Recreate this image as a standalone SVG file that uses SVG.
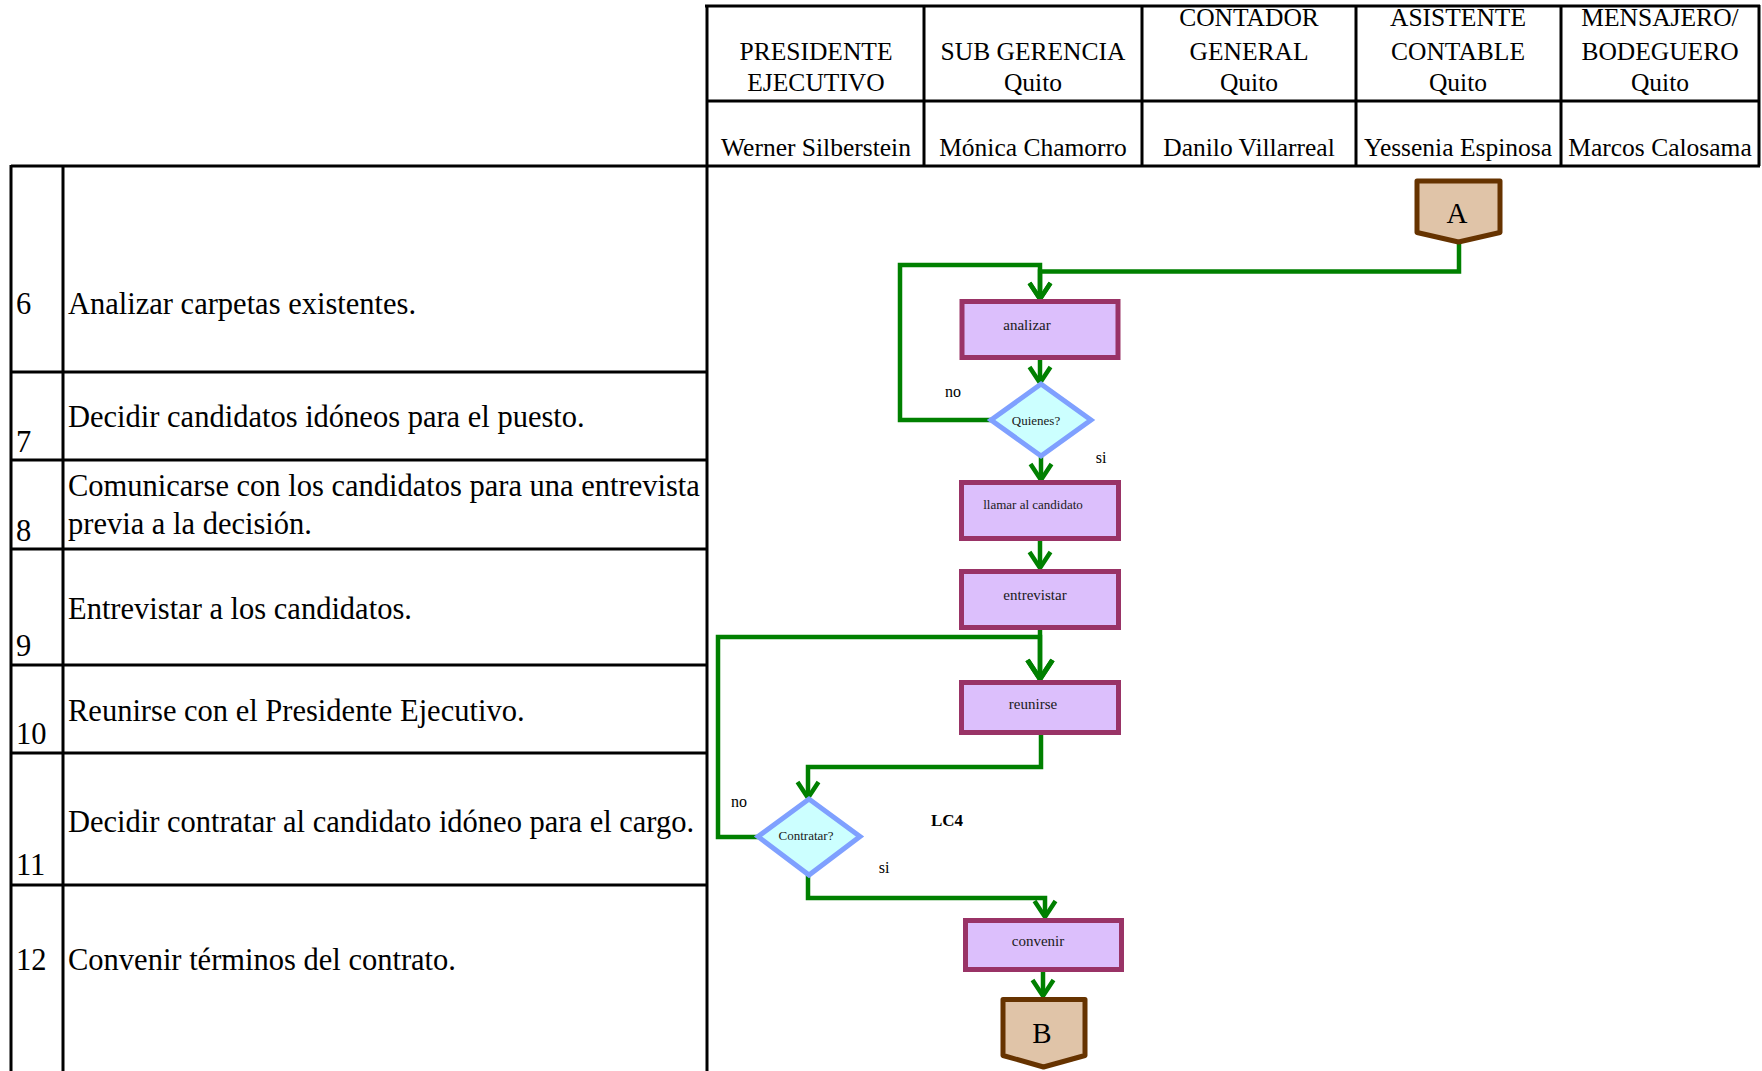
<svg xmlns="http://www.w3.org/2000/svg" width="1762" height="1071" viewBox="0 0 1762 1071">
  <style>
    .grid { stroke: #000; stroke-width: 3; fill: none; }
    .hdr { font-family: "Liberation Serif", "Times New Roman", serif; font-size: 25.5px; fill: #000; text-anchor: middle; }
    .row { font-family: "Liberation Serif", "Times New Roman", serif; font-size: 30.5px; fill: #000; }
    .proc { fill: #DCBFFC; stroke: #993366; stroke-width: 5; }
    .dec { fill: #CCFFFF; stroke: #7FA0FF; stroke-width: 5; stroke-linejoin: miter; }
    .conn { fill: #E0C4A8; stroke: #663300; stroke-width: 5; stroke-linejoin: round; }
    .lbl { font-family: "Liberation Serif", "Times New Roman", serif; font-size: 15px; fill: #1a1a1a; text-anchor: middle; }
    .small { font-size: 13px; }
    .big { font-family: "Liberation Serif", "Times New Roman", serif; font-size: 29px; fill: #000; text-anchor: middle; }
    .note { font-family: "Liberation Serif", "Times New Roman", serif; font-size: 16px; fill: #000; text-anchor: middle; }
    .bold { font-weight: bold; font-size: 17px; }
    .flow { fill: none; stroke: #008000; stroke-width: 4.5; stroke-linejoin: miter; }
  </style>
  <defs>
    <marker id="arrow" markerUnits="userSpaceOnUse" viewBox="-20 -14 24 28" markerWidth="24" markerHeight="28" refX="0" refY="0" orient="auto" overflow="visible">
      <path d="M-16,-10.5 L0,0 L-16,10.5" fill="none" stroke="#008000" stroke-width="4.5"/>
    </marker>
    <marker id="arrow-lg" markerUnits="userSpaceOnUse" viewBox="-24 -16 28 32" markerWidth="28" markerHeight="32" refX="0" refY="0" orient="auto" overflow="visible">
      <path d="M-19,-12.5 L0,0 L-19,12.5" fill="none" stroke="#008000" stroke-width="5"/>
    </marker>
  </defs>

  <rect width="1762" height="1071" fill="#fff"/>

  <!-- header table: roles and names -->
  <g id="header">
    <path class="grid" d="M705,6 H1760 M707,101 H1760 M11,166 H1760 M707,5 V1071 M924,5 V166 M1142,5 V166 M1356,5 V166 M1561,5 V166 M1759,5 V166"/>
    <text class="hdr" x="816" y="60">PRESIDENTE</text>
    <text class="hdr" x="816" y="91">EJECUTIVO</text>
    <text class="hdr" x="1033" y="60">SUB GERENCIA</text>
    <text class="hdr" x="1033" y="91">Quito</text>
    <text class="hdr" x="1249" y="26">CONTADOR</text>
    <text class="hdr" x="1249" y="60">GENERAL</text>
    <text class="hdr" x="1249" y="91">Quito</text>
    <text class="hdr" x="1458" y="26">ASISTENTE</text>
    <text class="hdr" x="1458" y="60">CONTABLE</text>
    <text class="hdr" x="1458" y="91">Quito</text>
    <text class="hdr" x="1660" y="26">MENSAJERO/</text>
    <text class="hdr" x="1660" y="60">BODEGUERO</text>
    <text class="hdr" x="1660" y="91">Quito</text>
    <text class="hdr" x="816" y="156">Werner Silberstein</text>
    <text class="hdr" x="1033" y="156">Mónica Chamorro</text>
    <text class="hdr" x="1249" y="156">Danilo Villarreal</text>
    <text class="hdr" x="1458" y="156">Yessenia Espinosa</text>
    <text class="hdr" x="1660" y="156">Marcos Calosama</text>
  </g>

  <!-- activity list -->
  <g id="steps">
    <path class="grid" d="M11,165 V1071 M63,165 V1071 M11,372 H707 M11,460 H707 M11,549 H707 M11,665 H707 M11,753 H707 M11,885 H707"/>
    <text class="row" x="16" y="314">6</text>
    <text class="row" x="68" y="314">Analizar carpetas existentes.</text>
    <text class="row" x="16" y="452">7</text>
    <text class="row" x="68" y="427">Decidir candidatos idóneos para el puesto.</text>
    <text class="row" x="16" y="541">8</text>
    <text class="row" x="68" y="496">Comunicarse con los candidatos para una entrevista</text>
    <text class="row" x="68" y="534">previa a la decisión.</text>
    <text class="row" x="16" y="656">9</text>
    <text class="row" x="68" y="619">Entrevistar a los candidatos.</text>
    <text class="row" x="16" y="744">10</text>
    <text class="row" x="68" y="721">Reunirse con el Presidente Ejecutivo.</text>
    <text class="row" x="16" y="875">11</text>
    <text class="row" x="68" y="832">Decidir contratar al candidato idóneo para el cargo.</text>
    <text class="row" x="16" y="970">12</text>
    <text class="row" x="68" y="970">Convenir términos del contrato.</text>
  </g>

  <!-- flow connectors -->
  <g id="connectors">
    <path class="flow" d="M1459,243 V271.5 H1040 V299" marker-end="url(#arrow)"/>
    <path class="flow" d="M991,420 H900 V265 H1040 V299" marker-end="url(#arrow)"/>
    <path class="flow" d="M1040,359 V383" marker-end="url(#arrow)"/>
    <path class="flow" d="M1041,456 V480" marker-end="url(#arrow)"/>
    <path class="flow" d="M1040,541 V568" marker-end="url(#arrow)"/>
    <path class="flow" d="M1040,629 V679" marker-end="url(#arrow-lg)"/>
    <path class="flow" d="M758,837 H718 V637 H1040 V679" marker-end="url(#arrow-lg)"/>
    <path class="flow" d="M1041,735 V767 H808 V798" marker-end="url(#arrow)"/>
    <path class="flow" d="M808,875 V898 H1045 V917" marker-end="url(#arrow)"/>
    <path class="flow" d="M1043,972 V996" marker-end="url(#arrow)"/>
  </g>

  <!-- flow nodes -->
  <g id="node-A">
    <path class="conn" d="M1417,181 H1500 V232.5 L1458.5,242 L1417,232.5 Z"/>
    <text class="big" x="1457" y="223">A</text>
  </g>
  <g id="node-analizar">
    <rect class="proc" x="962" y="301.5" width="156" height="56"/>
    <text class="lbl" x="1027" y="330">analizar</text>
  </g>
  <g id="node-quienes">
    <polygon class="dec" points="991,420 1041,384 1091,420 1041,456"/>
    <text class="lbl small" x="1036" y="425">Quienes?</text>
  </g>
  <g id="node-llamar">
    <rect class="proc" x="961.5" y="482.5" width="157" height="56"/>
    <text class="lbl small" x="1033" y="509">llamar al candidato</text>
  </g>
  <g id="node-entrevistar">
    <rect class="proc" x="961.5" y="571.5" width="157" height="56"/>
    <text class="lbl" x="1035" y="600">entrevistar</text>
  </g>
  <g id="node-reunirse">
    <rect class="proc" x="961.5" y="682.5" width="157" height="50"/>
    <text class="lbl" x="1033" y="709">reunirse</text>
  </g>
  <g id="node-contratar">
    <polygon class="dec" points="758,836.5 809,799 860,836.5 809,875"/>
    <text class="lbl small" x="806" y="840">Contratar?</text>
  </g>
  <g id="node-convenir">
    <rect class="proc" x="965.5" y="920.5" width="156" height="49"/>
    <text class="lbl" x="1038" y="946">convenir</text>
  </g>
  <g id="node-B">
    <path class="conn" d="M1003,999.5 H1085 V1055.5 L1043.5,1067 L1003,1055.5 Z"/>
    <text class="big" x="1042" y="1043">B</text>
  </g>

  <!-- branch labels -->
  <g id="labels">
    <text class="note" x="953" y="397">no</text>
    <text class="note" x="1101" y="463">si</text>
    <text class="note" x="739" y="807">no</text>
    <text class="note" x="884" y="873">si</text>
    <text class="note bold" x="947" y="826">LC4</text>
  </g>
</svg>
